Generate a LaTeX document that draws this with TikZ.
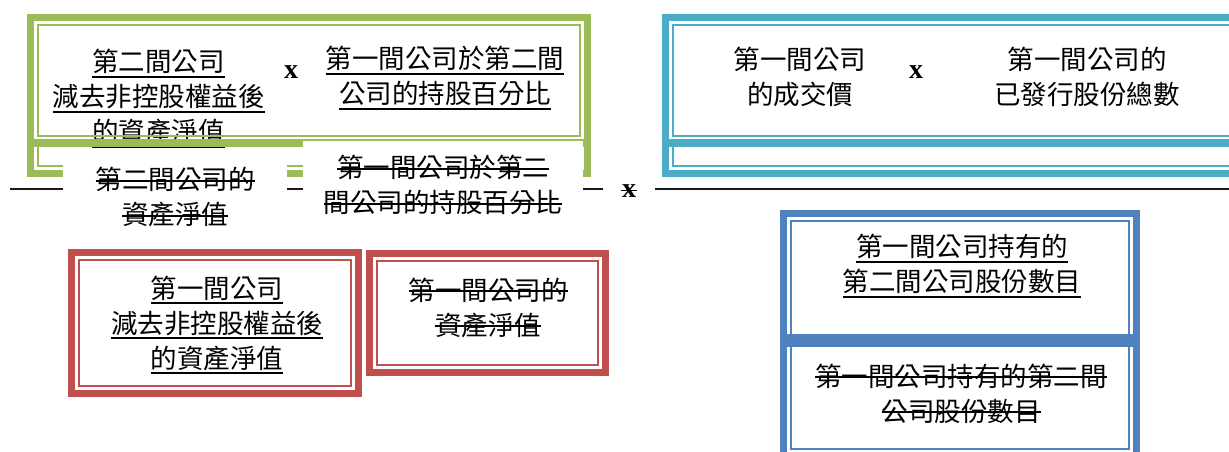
\documentclass[tikz,border=0pt]{standalone}
\usepackage{fontspec}
\setmainfont{Liberation Serif}
\newfontfamily\cjk{Noto Sans CJK TC}
\definecolor{ogreen}{HTML}{9BBB59}
\definecolor{oaqua}{HTML}{4BACC6}
\definecolor{ored}{HTML}{C0504D}
\definecolor{oblue}{HTML}{4F81BD}
\newsavebox\lnbox
\newcommand\ulu[1]{\sbox\lnbox{#1}\rlap{\rule[-0.22em]{\wd\lnbox}{1.8pt}}\usebox\lnbox}
\newcommand\sto[1]{\sbox\lnbox{#1}\rlap{\rule[0.3em]{\wd\lnbox}{1.8pt}}\usebox\lnbox}
% closed thick-thin frame: colour, x1, y1, x2, y2
\newcommand\ofrm[5]{%
  \draw[#1, thickline] (#2+3.5,#3+3.5) rectangle (#4-3.5,#5-3.5);
  \draw[#1, thinline] (#2+11,#3+11) rectangle (#4-11,#5-11);}
% lower frame, inner line open at top
\newcommand\ofrmlow[5]{%
  \draw[#1, thickline] (#2+3.5,#3+3.5) rectangle (#4-3.5,#5-3.5);
  \draw[#1, thinline] (#2+11,#3+7) -- (#2+11,#5-11) -- (#4-11,#5-11) -- (#4-11,#3+7);}
\tikzset{
  thickline/.style={line width=7pt},
  thinline/.style={line width=2pt},
  txt/.style={font={\cjk\fontsize{26.5}{35}\selectfont}, align=center, inner sep=0pt, text=black},
  timesx/.style={font={\bfseries\fontsize{28}{28}\selectfont}, inner sep=0pt, text=black},
  wbox/.style={txt, fill=white, draw=none},
  fracline/.style={line width=2pt, black!90},
}
\begin{document}
\begin{tikzpicture}[x=1pt, y=-1pt]
\useasboundingbox (0,0) rectangle (1229,452);
\clip (0,0) rectangle (1229,452);
\fill[white] (0,0) rectangle (1229,452);

% ---- green numerator block ----
\node[txt] (g1) at (158.5,98.5) {\ulu{第二間公司}\\\ulu{減去非控股權益後}\\\ulu{的資產淨值}};
\node[timesx] (gx) at (291,72) {x};
\node[txt] (g2) at (445,78) {\ulu{第一間公司於第二間}\\\ulu{公司的持股百分比}};
\ofrm{ogreen}{27}{14}{591}{147}
\ofrmlow{ogreen}{27}{139}{591}{177}

% ---- teal numerator block ----
\node[txt] (t1) at (800,77) {第一間公司\\的成交價};
\node[timesx] (tx) at (916,72) {x};
\node[txt] (t2) at (1087,77) {第一間公司的\\已發行股份總數};
\ofrm{oaqua}{662}{14}{1245}{147}
\ofrmlow{oaqua}{662}{139}{1245}{177}

% ---- fraction line ----
\coordinate (fl) at (10,189);
\coordinate (fr) at (1229,189);
\draw[fracline] (fl) -- (fr);

% ---- struck-out items over the line ----
\node[wbox, minimum width=224pt, minimum height=69pt] (s1) at (175,197) {\sto{第二間公司的}\\\sto{資產淨值}};
\node[wbox, minimum width=280pt, minimum height=88pt] (s2) at (443,185) {\sto{第一間公司於第二}\\\sto{間公司的持股百分比}};
\node[timesx, fill=white, minimum width=52pt, minimum height=36pt] (sx) at (629,191) {\rlap{\kern-0.05em\rule[0.22em]{0.6em}{1.6pt}}x};

% ---- red denominator blocks ----
\ofrm{ored}{68}{249}{362}{397}
\node[txt] (r1) at (217,325) {\ulu{第一間公司}\\\ulu{減去非控股權益後}\\\ulu{的資產淨值}};
\ofrm{ored}{366}{250}{609}{376}
\node[txt] (r2) at (488,307.5) {\sto{第一間公司的}\\\sto{資產淨值}};

% ---- blue denominator block ----
\ofrm{oblue}{780}{210}{1140}{347}
\ofrmlow{oblue}{780}{334}{1140}{460}
\node[txt] (b1) at (962,266) {\ulu{第一間公司持有的}\\\ulu{第二間公司股份數目}};
\node[txt] (b2) at (961,393.5) {\sto{第一間公司持有的第二間}\\\sto{公司股份數目}};
\end{tikzpicture}
\end{document}
